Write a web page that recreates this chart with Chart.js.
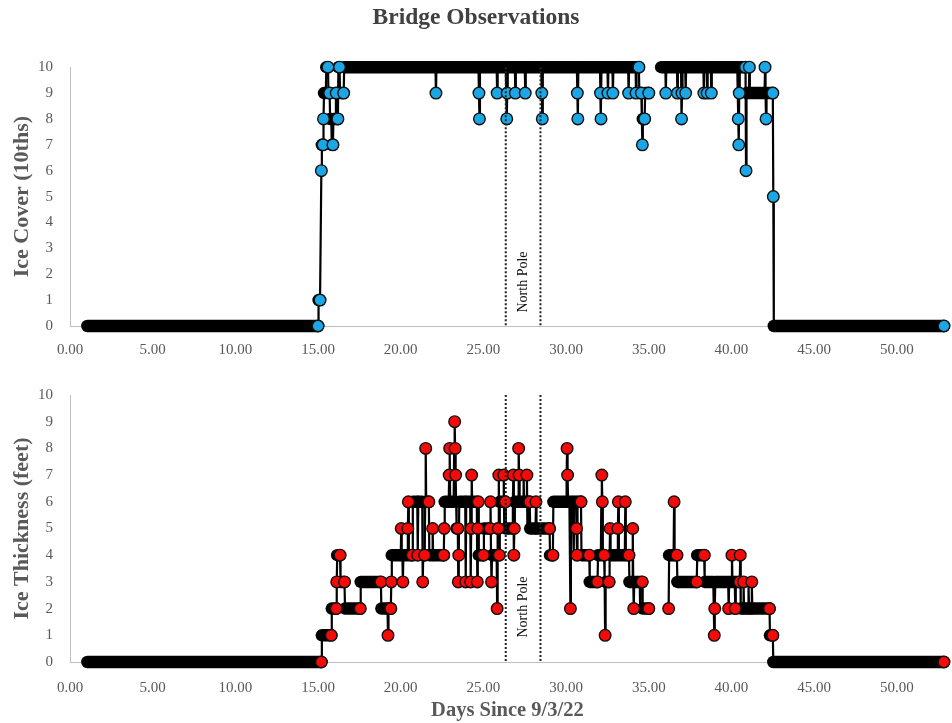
<!DOCTYPE html>
<html>
<head>
<meta charset="utf-8">
<script src="https://cdn.jsdelivr.net/npm/chart.js@4.4.0/dist/chart.umd.min.js"></script>
<style>
  html, body { margin: 0; padding: 0; background: #fff; }
  #wrap { position: relative; width: 952px; height: 723px; }
  .panel { position: absolute; left: 0; width: 952px; }
  #coverBox { top: 0; height: 365px; }
  #thickBox { top: 365px; height: 358px; }
</style>
</head>
<body>
<div id="wrap">
  <div class="panel" id="coverBox"><canvas id="coverChart"></canvas></div>
  <div class="panel" id="thickBox"><canvas id="thickChart"></canvas></div>
</div>
<script>
// bridge log: days since 9/3/22 and the reading taken at that time
// (a null value is a stretch with no readings)
const coverDays = [
  1.05, 15.0, 15.03, 15.12, 15.2, 15.23, 15.3, 15.33, 15.36, 15.47, 15.5, 15.6, 15.63, 15.7, 15.73, 15.8,
  15.83, 15.9, 15.93, 16.05, 16.08, 16.1, 16.13, 16.2, 16.23, 16.3, 16.33, 16.55, 16.58,
  22.1, 22.13, 22.16, 24.7, 24.73, 24.76, 24.79, 25.8, 25.83, 25.86,
  26.35, 26.38, 26.41, 26.44, 26.47, 26.9, 26.93, 26.96, 27.5, 27.53, 27.56,
  28.5, 28.53, 28.56, 28.59, 30.65, 30.68, 30.71, 30.74, 32.05, 32.08, 32.11, 32.14,
  32.5, 32.53, 32.56, 32.8, 32.83, 32.86, 33.75, 33.78, 33.81, 34.2, 34.23, 34.26,
  34.4, 34.43, 34.55, 34.58, 34.61, 34.64, 34.75, 34.78, 35.0, 35.4,
  35.75, 36.0, 36.03, 36.06, 36.7, 36.73, 36.76, 36.95, 36.98, 37.01, 37.04, 37.2, 37.23, 37.26,
  38.3, 38.33, 38.36, 38.5, 38.53, 38.56, 38.75, 38.78, 38.81,
  40.35, 40.38, 40.41, 40.44, 40.47, 40.5, 40.85, 40.88, 40.91, 41.05, 41.08, 41.11,
  42.0, 42.03, 42.06, 42.09, 42.12, 42.5, 42.53, 42.56, 52.85
];
const coverValues = [
  0, 0, 1, 1, 6, 7, 7, 8, 9, 9, 10, 10, 9, 9, 8, 8,
  7, 7, 8, 8, 9, 9, 8, 8, 10, 10, 9, 9, 10,
  10, 9, 10, 10, 9, 8, 10, 10, 9, 10,
  10, 9, 8, 9, 10, 10, 9, 10, 10, 9, 10,
  10, 9, 8, 10, 10, 9, 8, 10, 10, 9, 8, 10,
  10, 9, 10, 10, 9, 10, 10, 9, 10, 10, 9, 10,
  10, 9, 9, 8, 7, 8, 8, 9, 9, null,
  10, 10, 9, 10, 10, 9, 10, 10, 8, 9, 10, 10, 9, 10,
  10, 9, 10, 10, 9, 10, 10, 9, 10,
  10, 9, 8, 7, 9, 10, 10, 6, 9, 9, 10, 9,
  9, 10, 9, 8, 9, 9, 5, 0, 0
];

const thickDays = [
  1.05, 15.2, 15.23, 15.8, 15.83, 16.1, 16.13, 16.16, 16.33, 16.36, 16.6, 16.63, 17.55, 17.58, 18.8,
  18.83, 19.2, 19.23, 19.26, 19.4, 19.43, 19.46, 20.0, 20.03, 20.06, 20.1, 20.13, 20.16,
  20.4, 20.43, 20.46, 20.49, 20.7, 20.73, 21.0, 21.03, 21.06, 21.3, 21.33, 21.36,
  21.45, 21.48, 21.51, 21.54, 21.7, 21.73, 21.9, 21.93, 21.96,
  22.6, 22.63, 22.66, 22.9, 22.93, 22.96, 22.99, 23.2, 23.23, 23.26, 23.29, 23.32, 23.35, 23.38,
  23.45, 23.48, 23.51, 23.54, 23.9, 23.93, 23.96, 24.2, 24.23, 24.26, 24.29, 24.32,
  24.6, 24.63, 24.66, 24.69, 24.72, 25.0, 25.03, 25.4, 25.43, 25.46, 25.49, 25.52,
  25.8, 25.83, 25.86, 25.9, 25.93, 25.96, 25.99, 26.2, 26.23, 26.26, 26.29, 26.33, 26.36,
  26.75, 26.78, 26.81, 26.84, 26.87, 26.9, 27.1, 27.13, 27.16, 27.19,
  27.4, 27.43, 27.46, 27.6, 27.63, 27.66, 27.69, 27.8, 27.83, 28.15, 28.18, 28.21,
  29.0, 29.03, 29.2, 29.23, 30.0, 30.03, 30.06, 30.09, 30.12, 30.2, 30.23, 30.26, 30.29, 30.32,
  30.4, 30.43, 30.46, 30.49, 30.6, 30.63, 30.66, 30.69, 30.9, 30.93, 31.4, 31.43, 31.9, 31.93,
  32.1, 32.13, 32.16, 32.19, 32.22, 32.3, 32.33, 32.36, 32.39, 32.6, 32.63, 32.66, 32.69,
  33.1, 33.13, 33.16, 33.19, 33.55, 33.58, 33.61, 33.8, 33.83,
  34.0, 34.03, 34.06, 34.09, 34.12, 34.45, 34.48, 34.51, 34.6, 34.63, 35.0, 35.6,
  36.2, 36.23, 36.5, 36.53, 36.56, 36.7, 36.73, 37.9, 37.93, 38.35, 38.38,
  38.9, 38.93, 38.96, 38.99, 39.02, 39.8, 39.83, 39.86, 40.0, 40.03, 40.06, 40.2, 40.23, 40.26,
  40.5, 40.53, 40.56, 40.7, 40.73, 40.76, 41.0, 41.03, 41.06, 41.2, 41.23, 41.26,
  42.3, 42.33, 42.5, 42.53, 52.85
];
const thickValues = [
  0, 0, 1, 1, 2, 2, 3, 4, 4, 3, 3, 2, 2, 3, 3,
  2, 2, 1, 2, 2, 3, 4, 4, 5, 4, 4, 3, 4,
  4, 5, 6, 4, 4, 6, 6, 4, 6, 6, 3, 4,
  4, 6, 8, 6, 6, 4, 4, 5, 4,
  4, 5, 6, 6, 7, 8, 6, 6, 8, 9, 8, 7, 6, 5,
  5, 3, 4, 6, 6, 3, 6, 6, 3, 5, 7, 6,
  6, 3, 5, 6, 4, 4, 5, 5, 6, 4, 3, 4,
  4, 2, 5, 5, 7, 4, 6, 6, 7, 5, 6, 6, 5,
  5, 6, 7, 4, 5, 6, 6, 8, 7, 6,
  6, 7, 6, 6, 7, 5, 6, 6, 5, 5, 6, 5,
  5, 4, 4, 6, 6, 7, 8, 7, 6, 6, 4, 2, 4, 6,
  6, 5, 4, 6, 6, 5, 4, 6, 6, 4, 4, 3, 3, 4,
  4, 6, 7, 6, 4, 4, 3, 1, 3, 3, 4, 5, 4,
  4, 5, 6, 4, 4, 6, 4, 4, 3,
  3, 5, 3, 2, 3, 3, 2, 3, 3, 2, 2, null,
  2, 4, 4, 6, 4, 4, 3, 3, 4, 4, 3,
  3, 2, 1, 2, 3, 3, 2, 3, 3, 4, 3, 3, 2, 3,
  3, 4, 2, 2, 3, 2, 2, 3, 2, 2, 3, 2,
  2, 1, 1, 0, 0
];

const northPoleDays = [26.35, 28.45];
const northPoleLabel = 'North Pole';

const SERIF = "'Liberation Serif', 'Times New Roman', serif";
const AXIS_GREY = '#595959';
Chart.defaults.font.family = SERIF;

function toPoints(days, values) {
  return days.map((d, i) => ({ x: d, y: values[i] }));
}

// a marker stays hidden when a later reading at the same level lands
// (almost) on top of it, or when it starts a run
function markerRadius(points, r) {
  return ctx => {
    const i = ctx.dataIndex, p = points[i];
    if (p.y === null) return 0;
    const next = points[i + 1];
    if (next && next.y === p.y) return 0;
    for (let j = i + 1; j < Math.min(points.length, i + 9); j++) {
      const q = points[j];
      if (q.y === null || q.x - p.x > 0.2) break;
      if (q.y === p.y) return 0;
    }
    return r;
  };
}

function series(points, fill) {
  return {
    data: points,
    borderColor: '#000',
    borderWidth: 2.2,
    borderCapStyle: 'round',
    borderJoinStyle: 'round',
    // runs of equal readings merge into a solid bar
    segment: { borderWidth: ctx => ctx.p0.parsed.y === ctx.p1.parsed.y ? 12.5 : 2.2 },
    pointRadius: markerRadius(points, 5.8),
    pointBackgroundColor: fill,
    pointBorderColor: '#111',
    pointBorderWidth: 1.4,
    tension: 0,
    spanGaps: false,
    clip: false
  };
}

const northPole = {
  id: 'northPole',
  afterDatasetsDraw(chart, args, opts) {
    const { ctx, chartArea: a, scales: { x } } = chart;
    const xs = northPoleDays.map(d => x.getPixelForValue(d));
    ctx.save();
    ctx.strokeStyle = '#222';
    ctx.lineWidth = 2;
    ctx.setLineDash([2, 2]);
    xs.forEach(px => {
      ctx.beginPath();
      ctx.moveTo(px, a.top);
      ctx.lineTo(px, a.bottom);
      ctx.stroke();
    });
    ctx.setLineDash([]);
    ctx.translate((xs[0] + xs[1]) / 2, a.bottom - opts.lift);
    ctx.rotate(-Math.PI / 2);
    ctx.font = '14px ' + SERIF;
    ctx.fillStyle = '#111';
    ctx.textAlign = 'center';
    ctx.textBaseline = 'middle';
    ctx.fillText(northPoleLabel, 0, 0);
    ctx.restore();
  }
};

function scales(yTitle, xTitle, xPad, xHeight) {
  return {
    x: {
      type: 'linear', min: 0, max: 52.9,
      grid: { display: false, drawTicks: false },
      border: { display: true, color: '#BFBFBF', width: 1 },
      ticks: {
        stepSize: 5, includeBounds: false, autoSkip: false, maxRotation: 0,
        padding: xPad, color: AXIS_GREY, font: { size: 15 },
        callback: v => Number(v).toFixed(2)
      },
      title: xTitle
        ? { display: true, text: xTitle, color: AXIS_GREY, font: { size: 20.5, weight: 'bold' }, padding: { top: 0, bottom: 0 } }
        : { display: false },
      afterFit: s => { s.height = xHeight; }
    },
    y: {
      min: 0, max: 10,
      grid: { display: false, drawTicks: false },
      border: { display: true, color: '#BFBFBF', width: 1 },
      ticks: { stepSize: 1, padding: 17, color: AXIS_GREY, font: { size: 15 } },
      title: { display: true, text: yTitle, color: AXIS_GREY, font: { size: 22, weight: 'bold' }, padding: { top: 9, bottom: 0 } },
      afterFit: s => { s.width = 70; }
    }
  };
}

const coverPts = toPoints(coverDays, coverValues);
const thickPts = toPoints(thickDays, thickValues);

new Chart(document.getElementById('coverChart'), {
  type: 'line',
  data: { datasets: [series(coverPts, '#1BA6E6')] },
  options: {
    responsive: true, maintainAspectRatio: false, animation: false, events: [],
    layout: { padding: { left: 0, right: 0, top: 0, bottom: 0 } },
    plugins: {
      legend: { display: false },
      tooltip: { enabled: false },
      title: {
        display: true, text: 'Bridge Observations', color: '#404040',
        font: { size: 23.5, weight: 'bold' }, padding: { top: 4, bottom: 35 }
      },
      northPole: { lift: 44 }
    },
    scales: scales('Ice Cover (10ths)', null, 15, 39)
  },
  plugins: [northPole]
});

new Chart(document.getElementById('thickChart'), {
  type: 'line',
  data: { datasets: [series(thickPts, '#F50A0A')] },
  options: {
    responsive: true, maintainAspectRatio: false, animation: false, events: [],
    layout: { padding: { left: 0, right: 0, top: 30, bottom: 0 } },
    plugins: {
      legend: { display: false },
      tooltip: { enabled: false },
      northPole: { lift: 55 }
    },
    scales: scales('Ice Thickness (feet)', 'Days Since 9/3/22', 17, 61)
  },
  plugins: [northPole]
});
</script>
</body>
</html>
